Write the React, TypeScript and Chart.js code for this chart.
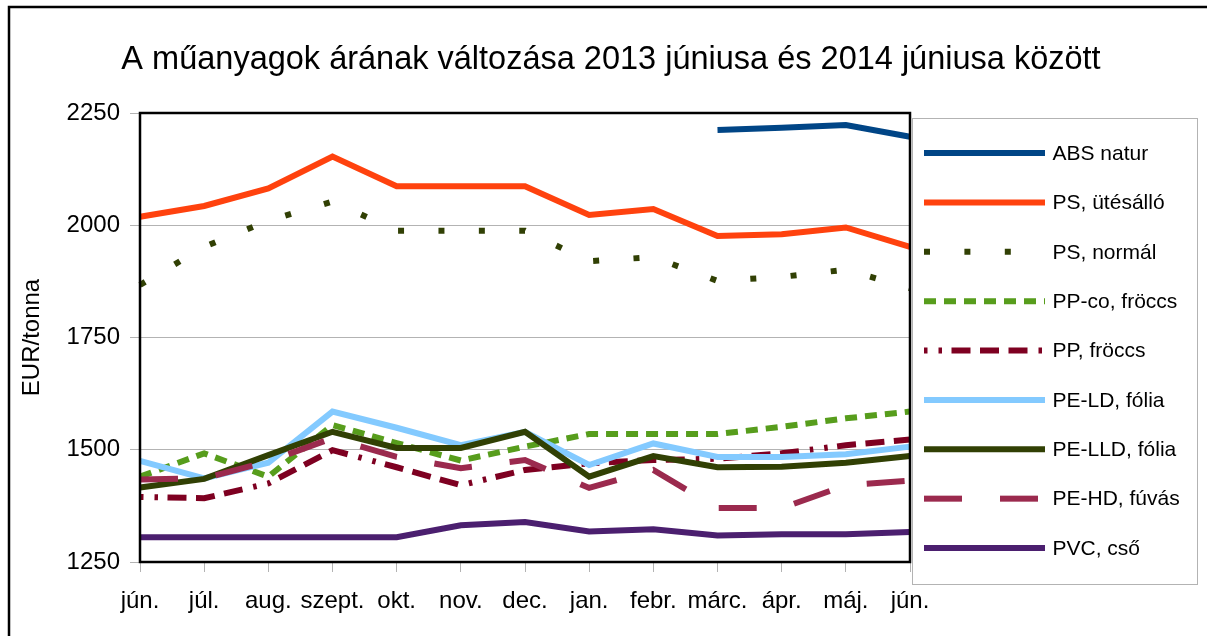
import React, { useEffect, useRef } from 'react';
import { Chart, registerables } from 'chart.js';

Chart.register(...registerables);

const FONT = "'Liberation Sans', Arial, sans-serif";

const titleText = 'A műanyagok árának változása 2013 júniusa és 2014 júniusa között';
const yAxisTitle = 'EUR/tonna';

const months = ['jún.', 'júl.', 'aug.', 'szept.', 'okt.', 'nov.', 'dec.', 'jan.', 'febr.', 'márc.', 'ápr.', 'máj.', 'jún.'];

const yTickMin = 1250;
const yTickMax = 2250;
const yTickStep = 250;

const absNatur = [null, null, null, null, null, null, null, null, null, 2212, 2217, 2223, 2197];
const psUtesallo = [2019, 2043, 2082, 2153, 2087, 2087, 2087, 2023, 2036, 1976, 1980, 1995, 1952];
const psNormal = [1867, 1952, 2010, 2053, 1988, 1988, 1988, 1920, 1929, 1876, 1885, 1901, 1860];
const ppCoFroccs = [1440, 1492, 1440, 1555, 1515, 1476, 1507, 1535, 1535, 1535, 1551, 1570, 1585];
const ppFroccs = [1395, 1392, 1425, 1499, 1461, 1421, 1455, 1470, 1477, 1480, 1492, 1510, 1523];
const peLdFolia = [1475, 1436, 1471, 1585, 1549, 1510, 1540, 1466, 1514, 1484, 1484, 1490, 1507];
const peLldFolia = [1416, 1435, 1488, 1540, 1504, 1504, 1540, 1440, 1486, 1461, 1462, 1471, 1486];
const peHdFuvas = [1434, 1436, 1474, 1526, 1484, 1459, 1477, 1415, 1455, 1370, 1370, 1421, 1431];
const pvcCso = [1305, 1305, 1305, 1305, 1305, 1332, 1339, 1318, 1323, 1309, 1312, 1312, 1317];

const seriesLabels = ['ABS natur', 'PS, ütésálló', 'PS, normál', 'PP-co, fröccs', 'PP, fröccs', 'PE-LD, fólia', 'PE-LLD, fólia', 'PE-HD, fúvás', 'PVC, cső'];
const seriesValues = [absNatur, psUtesallo, psNormal, ppCoFroccs, ppFroccs, peLdFolia, peLldFolia, peHdFuvas, pvcCso];
const seriesColors = ['#004586', '#ff420e', '#314004', '#579d1c', '#7e0021', '#83caff', '#314004', '#9b2a4e', '#4b1f6f'];
const seriesDashes: number[][] = [
  [],
  [],
  [6, 34.4],
  [12, 8],
  [3.5, 11, 3.5, 9.5, 19, 9.5, 19, 9.5, 19, 11],
  [],
  [],
  [38, 38],
  [],
];

const frameAndLegend = {
  id: 'frameAndLegend',
  beforeDraw(chart: any) {
    const ctx = chart.ctx;
    ctx.save();
    ctx.fillStyle = '#ffffff';
    ctx.fillRect(0, 0, chart.width, chart.height);
    ctx.strokeStyle = '#000000';
    ctx.lineWidth = 2.5;
    ctx.beginPath();
    ctx.moveTo(9, chart.height + 5);
    ctx.lineTo(9, 7);
    ctx.lineTo(chart.width + 5, 7);
    ctx.stroke();
    ctx.restore();
  },
  afterDraw(chart: any) {
    const ctx = chart.ctx;
    const a = chart.chartArea;
    ctx.save();
    // plot frame
    ctx.strokeStyle = '#000000';
    ctx.lineWidth = 2.5;
    ctx.strokeRect(a.left, a.top, a.right - a.left, a.bottom - a.top);
    // legend box
    const boxL = a.right + 2.5;
    const boxT = a.top + 5.5;
    const boxW = 285;
    const boxH = 466;
    ctx.strokeStyle = '#b3b3b3';
    ctx.lineWidth = 1;
    ctx.strokeRect(boxL, boxT, boxW, boxH);
    const step = 49.38;
    const firstY = a.top + 40;
    chart.data.datasets.forEach((ds: any, i: number) => {
      const y = firstY + i * step;
      ctx.beginPath();
      ctx.setLineDash(ds.borderDash || []);
      ctx.lineWidth = ds.borderWidth;
      ctx.strokeStyle = ds.borderColor;
      ctx.lineCap = 'butt';
      ctx.moveTo(boxL + 11.5, y);
      ctx.lineTo(boxL + 132.5, y);
      ctx.stroke();
      ctx.setLineDash([]);
      ctx.fillStyle = '#000000';
      ctx.font = `21px ${FONT}`;
      ctx.textBaseline = 'middle';
      ctx.textAlign = 'left';
      ctx.fillText(ds.label, boxL + 140, y + 1);
    });
    ctx.restore();
  },
};

export default function App() {
  const ref = useRef<HTMLCanvasElement | null>(null);

  useEffect(() => {
    if (!ref.current) return;
    const n = seriesLabels.length;
    const chart = new Chart(ref.current, {
      type: 'line',
      data: {
        labels: months,
        datasets: seriesLabels.map((label, i) => ({
          label,
          data: seriesValues[i],
          borderColor: seriesColors[i],
          backgroundColor: seriesColors[i],
          borderWidth: 6,
          borderDash: seriesDashes[i],
          borderCapStyle: 'butt',
          borderJoinStyle: 'miter',
          pointRadius: 0,
          pointHoverRadius: 0,
          tension: 0,
          fill: false,
          spanGaps: false,
          order: n - i,
        })),
      },
      options: {
        responsive: false,
        animation: false,
        events: [],
        layout: { padding: { left: 15, right: 0, top: 0, bottom: 0 } },
        plugins: {
          legend: { display: false },
          tooltip: { enabled: false },
          title: {
            display: true,
            text: titleText,
            color: '#000000',
            font: { family: FONT, size: 32.5, weight: 'normal' },
            padding: { top: 41, bottom: 33 },
          },
        },
        scales: {
          x: {
            type: 'category',
            offset: false,
            grid: {
              drawOnChartArea: false,
              drawTicks: true,
              tickLength: 10,
              color: '#b3b3b3',
            },
            border: { display: false },
            ticks: {
              color: '#000000',
              font: { family: FONT, size: 24 },
              maxRotation: 0,
              autoSkip: false,
              padding: 15,
            },
            afterFit: (s: any) => {
              s.height = 74;
            },
          },
          y: {
            type: 'linear',
            min: yTickMin,
            max: yTickMax,
            grid: {
              color: '#b3b3b3',
              tickLength: 10,
            },
            border: { display: false },
            ticks: {
              stepSize: yTickStep,
              color: '#000000',
              font: { family: FONT, size: 24 },
              padding: 10,
              callback: (v: any) => String(v),
            },
            title: {
              display: true,
              text: yAxisTitle,
              color: '#000000',
              font: { family: FONT, size: 24 },
              padding: { top: 3, bottom: 0 },
            },
            afterFit: (s: any) => {
              s.width = 125;
            },
          },
          yR: {
            type: 'linear',
            position: 'right',
            display: true,
            grid: { display: false },
            border: { display: false },
            ticks: { display: false },
            afterFit: (s: any) => {
              s.width = 297;
            },
          },
        },
      },
      plugins: [frameAndLegend],
    });
    return () => chart.destroy();
  }, []);

  return (
    <div style={{ position: 'absolute', left: 0, top: 0, width: 1207, height: 636, background: '#ffffff' }}>
      <canvas ref={ref} width={1207} height={636} style={{ display: 'block' }} />
    </div>
  );
}
